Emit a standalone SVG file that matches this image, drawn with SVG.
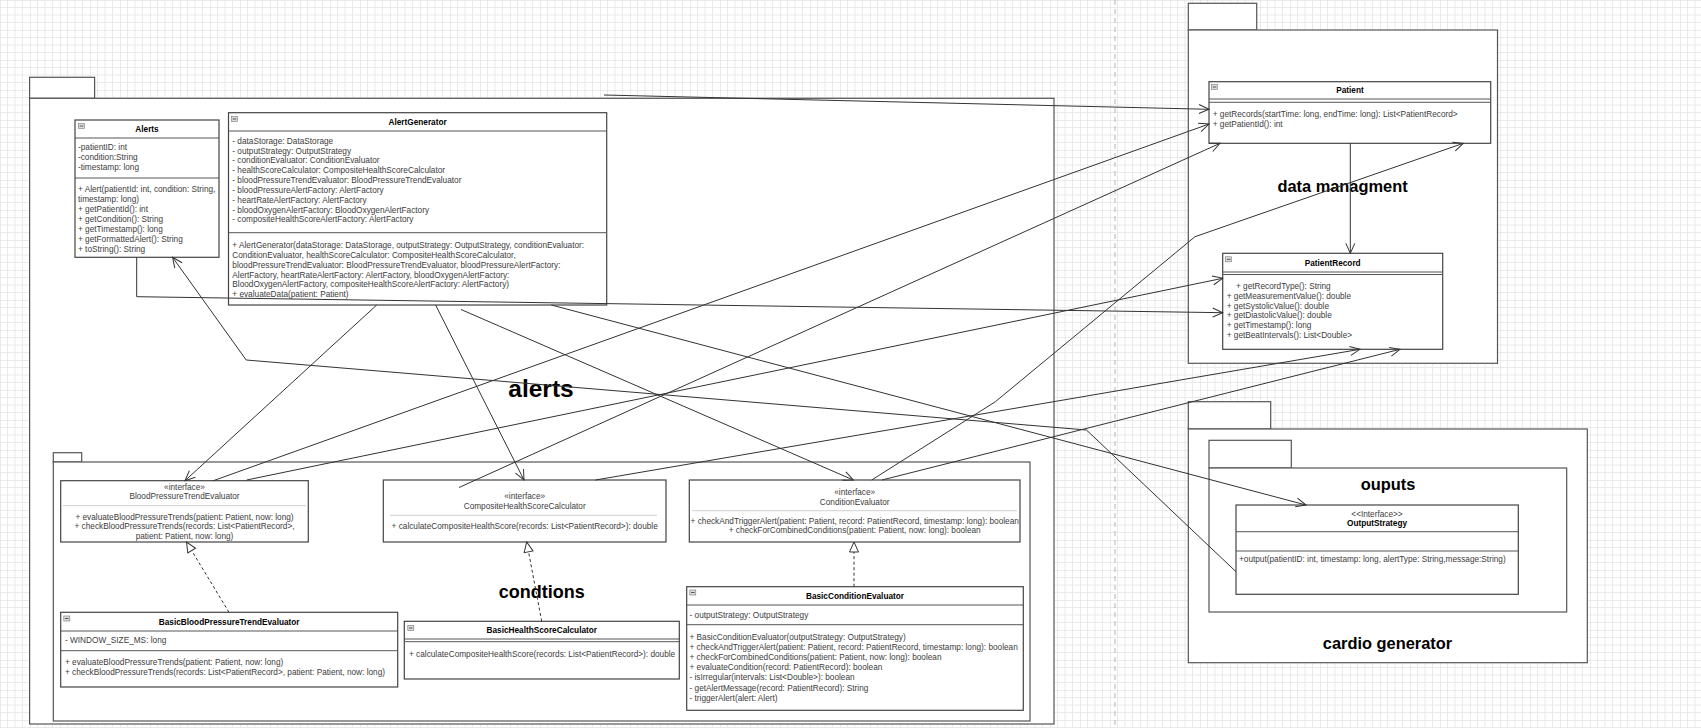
<svg xmlns="http://www.w3.org/2000/svg" xmlns:xlink="http://www.w3.org/1999/xlink" width="1701" height="728" viewBox="0 0 1701 728">
<style>
.pkg{fill:#fff;stroke:#555;stroke-width:1.2}
.cls{fill:#fff;stroke:#444;stroke-width:1.2}
.dv{stroke:#555;stroke-width:1;fill:none}
.sp{stroke:#cfcfcf;stroke-width:1;fill:none}
.t{font-family:"Liberation Sans",Arial,Helvetica,sans-serif;font-size:8.25px;fill:#3c3c3c}
.c{text-anchor:middle}
.ti{font-weight:bold;fill:#000}
.big{font-family:"Liberation Sans",Arial,Helvetica,sans-serif;font-weight:bold;fill:#000;text-anchor:middle}
.cn{fill:none;stroke:#333;stroke-width:1;marker-end:url(#open)}
.rz{fill:none;stroke:#333;stroke-width:1;stroke-dasharray:3 2.5;marker-end:url(#tri)}
</style>
<defs>
<pattern id="grid" width="30" height="30" patternUnits="userSpaceOnUse">
<path d="M7.5 0V30M15 0V30M22.5 0V30M0 7.5H30M0 15H30M0 22.5H30" stroke="#eaeaea" stroke-width="1"/>
<path d="M0 0V30M0 0H30" stroke="#d8d8d8" stroke-width="1"/>
</pattern>
<marker id="open" markerUnits="userSpaceOnUse" markerWidth="12" markerHeight="11" refX="10" refY="4.5" orient="auto" overflow="visible">
<path d="M0 0L10 4.5L0 9" fill="none" stroke="#333" stroke-width="1"/>
</marker>
<marker id="tri" markerUnits="userSpaceOnUse" markerWidth="12" markerHeight="11" refX="10" refY="4.5" orient="auto" overflow="visible">
<path d="M0 0L10 4.5L0 9Z" fill="#fff" stroke="#333" stroke-width="1"/>
</marker>
<g id="ic"><rect x="0" y="0" width="6" height="5" fill="#dcdcdc" stroke="#777" stroke-width="0.6"/><path d="M1.2 2.5H4.8" stroke="#333" stroke-width="0.8"/></g>
</defs>

<rect width="1701" height="728" fill="#fff"/>
<rect width="1701" height="728" fill="url(#grid)"/>
<path d="M1115 0V728" stroke="#b4b4b4" stroke-width="1" stroke-dasharray="5 4"/>

<g id="pkg-alerts">
<rect class="pkg" x="29.6" y="77.3" width="65" height="21"/>
<rect class="pkg" x="29.6" y="98.3" width="1024.4" height="625.7"/>
<text class="big" x="541" y="397" font-size="24.5">alerts</text>
</g>
<g id="pkg-conditions">
<rect class="pkg" x="53.3" y="452.7" width="28.4" height="9.3"/>
<rect class="pkg" x="53.3" y="462" width="976.7" height="259"/>
<text class="big" x="541.7" y="597.5" font-size="18">condtions</text>
</g>
<g id="pkg-data">
<rect class="pkg" x="1188.3" y="3.3" width="68.4" height="26.7"/>
<rect class="pkg" x="1188.3" y="30" width="309.2" height="333.3"/>
<text class="big" x="1342.5" y="192" font-size="16.4">data managment</text>
</g>
<g id="pkg-cardio">
<rect class="pkg" x="1188.3" y="401.7" width="82.4" height="27.3"/>
<rect class="pkg" x="1188.3" y="429" width="399" height="233.7"/>
<text class="big" x="1387.5" y="649" font-size="16.4">cardio generator</text>
</g>
<g id="pkg-outputs">
<rect class="pkg" x="1209" y="440.3" width="82.3" height="27.7"/>
<rect class="pkg" x="1209" y="468" width="357.7" height="144"/>
<text class="big" x="1388" y="490" font-size="16.4">ouputs</text>
</g>

<g id="Alerts">
<rect class="cls" x="75" y="120" width="144" height="137.3"/>
<use xlink:href="#ic" x="78.5" y="123.5"/>
<text class="t ti c" x="147" y="132.3">Alerts</text>
<path class="dv" d="M75 138H219M75 178H219"/>
<text class="t" x="78" y="150.3">-patientID: int</text>
<text class="t" x="78" y="160.3">-condition:String</text>
<text class="t" x="78" y="170.3">-timestamp: long</text>
<text class="t" x="78" y="192.3">+ Alert(patientId: int, condition: String,</text>
<text class="t" x="78" y="202.3">timestamp: long)</text>
<text class="t" x="78" y="212.3">+ getPatientId(): int</text>
<text class="t" x="78" y="222.3">+ getCondition(): String</text>
<text class="t" x="78" y="232.3">+ getTimestamp(): long</text>
<text class="t" x="78" y="242.3">+ getFormattedAlert(): String</text>
<text class="t" x="78" y="252.3">+ toString(): String</text>
</g>

<g id="AlertGenerator">
<rect class="cls" x="228.5" y="112.7" width="378.2" height="192.3"/>
<use xlink:href="#ic" x="231.5" y="116.5"/>
<text class="t ti c" x="417.6" y="125.3">AlertGenerator</text>
<path class="dv" d="M228.5 131H606.7M228.5 232.7H606.7"/>
<text class="t" x="232.3" y="143.7">- dataStorage: DataStorage</text>
<text class="t" x="232.3" y="153.5">- outputStrategy: OutputStrategy</text>
<text class="t" x="232.3" y="163.4">- conditionEvaluator: ConditionEvaluator</text>
<text class="t" x="232.3" y="173.2">- healthScoreCalculator: CompositeHealthScoreCalculator</text>
<text class="t" x="232.3" y="183">- bloodPressureTrendEvaluator: BloodPressureTrendEvaluator</text>
<text class="t" x="232.3" y="192.9">- bloodPressureAlertFactory: AlertFactory</text>
<text class="t" x="232.3" y="202.7">- heartRateAlertFactory: AlertFactory</text>
<text class="t" x="232.3" y="212.5">- bloodOxygenAlertFactory: BloodOxygenAlertFactory</text>
<text class="t" x="232.3" y="222.4">- compositeHealthScoreAlertFactory: AlertFactory</text>
<text class="t" x="232.3" y="248">+ AlertGenerator(dataStorage: DataStorage, outputStrategy: OutputStrategy, conditionEvaluator:</text>
<text class="t" x="232.3" y="257.8">ConditionEvaluator, healthScoreCalculator: CompositeHealthScoreCalculator,</text>
<text class="t" x="232.3" y="267.6">bloodPressureTrendEvaluator: BloodPressureTrendEvaluator, bloodPressureAlertFactory:</text>
<text class="t" x="232.3" y="277.5">AlertFactory, heartRateAlertFactory: AlertFactory, bloodOxygenAlertFactory:</text>
<text class="t" x="232.3" y="287.3">BloodOxygenAlertFactory, compositeHealthScoreAlertFactory: AlertFactory)</text>
<text class="t" x="232.3" y="297.1">+ evaluateData(patient: Patient)</text>
</g>

<g id="BloodPressureTrendEvaluator">
<rect class="cls" x="60.7" y="480.7" width="247.6" height="61.3"/>
<text class="t c" x="184.5" y="489.7">«interface»</text>
<text class="t c" x="184.5" y="499">BloodPressureTrendEvaluator</text>
<path class="sp" d="M63 505.7H306"/>
<text class="t c" x="184.5" y="519.7">+ evaluateBloodPressureTrends(patient: Patient, now: long)</text>
<text class="t c" x="184.5" y="529">+ checkBloodPressureTrends(records: List&lt;PatientRecord&gt;,</text>
<text class="t c" x="184.5" y="538.7">patient: Patient, now: long)</text>
</g>

<g id="CompositeHealthScoreCalculator">
<rect class="cls" x="383.3" y="480" width="282.7" height="62"/>
<text class="t c" x="524.7" y="499">«interface»</text>
<text class="t c" x="524.7" y="509">CompositeHealthScoreCalculator</text>
<path class="sp" d="M390 515.3H657"/>
<text class="t c" x="524.7" y="529">+ calculateCompositeHealthScore(records: List&lt;PatientRecord&gt;): double</text>
</g>

<g id="ConditionEvaluator">
<rect class="cls" x="689.3" y="480" width="330.7" height="62"/>
<text class="t c" x="854.7" y="495">«interface»</text>
<text class="t c" x="854.7" y="504.7">ConditionEvaluator</text>
<path class="sp" d="M692 510.7H1017"/>
<text class="t c" x="854.7" y="524.3">+ checkAndTriggerAlert(patient: Patient, record: PatientRecord, timestamp: long): boolean</text>
<text class="t c" x="854.7" y="533.3">+ checkForCombinedConditions(patient: Patient, now: long): boolean</text>
</g>

<g id="BasicBloodPressureTrendEvaluator">
<rect class="cls" x="60.7" y="612.3" width="337" height="74.7"/>
<use xlink:href="#ic" x="63.8" y="616"/>
<text class="t ti c" x="229.2" y="624.7">BasicBloodPressureTrendEvaluator</text>
<path class="dv" d="M60.7 631H397.7M60.7 650.7H397.7"/>
<text class="t" x="65" y="643">- WINDOW_SIZE_MS: long</text>
<text class="t" x="65" y="665.3">+ evaluateBloodPressureTrends(patient: Patient, now: long)</text>
<text class="t" x="65" y="675">+ checkBloodPressureTrends(records: List&lt;PatientRecord&gt;, patient: Patient, now: long)</text>
</g>

<g id="BasicHealthScoreCalculator">
<rect class="cls" x="404.3" y="621.3" width="275" height="57.7"/>
<use xlink:href="#ic" x="407.8" y="625.5"/>
<text class="t ti c" x="541.8" y="633">BasicHealthScoreCalculator</text>
<path class="dv" d="M404.3 639H679.3M404.3 641.7H679.3"/>
<text class="t" x="409" y="657">+ calculateCompositeHealthScore(records: List&lt;PatientRecord&gt;): double</text>
</g>

<g id="BasicConditionEvaluator">
<rect class="cls" x="686.7" y="586.7" width="336.6" height="123.6"/>
<use xlink:href="#ic" x="689.8" y="590"/>
<text class="t ti c" x="855" y="599">BasicConditionEvaluator</text>
<path class="dv" d="M686.7 605H1023.3M686.7 624.7H1023.3"/>
<text class="t" x="689.5" y="617.7">- outputStrategy: OutputStrategy</text>
<text class="t" x="689.5" y="639.5">+ BasicConditionEvaluator(outputStrategy: OutputStrategy)</text>
<text class="t" x="689.5" y="649.8">+ checkAndTriggerAlert(patient: Patient, record: PatientRecord, timestamp: long): boolean</text>
<text class="t" x="689.5" y="660">+ checkForCombinedConditions(patient: Patient, now: long): boolean</text>
<text class="t" x="689.5" y="670.2">+ evaluateCondition(record: PatientRecord): boolean</text>
<text class="t" x="689.5" y="680.4">- isIrregular(intervals: List&lt;Double&gt;): boolean</text>
<text class="t" x="689.5" y="690.6">- getAlertMessage(record: PatientRecord): String</text>
<text class="t" x="689.5" y="700.8">- triggerAlert(alert: Alert)</text>
</g>

<g id="Patient">
<rect class="cls" x="1209" y="81.7" width="281.7" height="61.6"/>
<use xlink:href="#ic" x="1211.5" y="84.5"/>
<text class="t ti c" x="1350" y="93">Patient</text>
<path class="dv" d="M1209 99H1490.7M1209 102.3H1490.7"/>
<text class="t" x="1212.7" y="117">+ getRecords(startTime: long, endTime: long): List&lt;PatientRecord&gt;</text>
<text class="t" x="1212.7" y="127">+ getPatientId(): int</text>
</g>

<g id="PatientRecord">
<rect class="cls" x="1222.7" y="253.3" width="220" height="96"/>
<use xlink:href="#ic" x="1225.7" y="256.8"/>
<text class="t ti c" x="1332.7" y="266">PatientRecord</text>
<path class="dv" d="M1222.7 272H1442.7M1222.7 274.5H1442.7"/>
<text class="t" x="1236" y="289">+ getRecordType(): String</text>
<text class="t" x="1226.7" y="299">+ getMeasurementValue(): double</text>
<text class="t" x="1226.7" y="308.7">+ getSystolicValue(): double</text>
<text class="t" x="1226.7" y="318.3">+ getDiastolicValue(): double</text>
<text class="t" x="1226.7" y="328">+ getTimestamp(): long</text>
<text class="t" x="1226.7" y="337.8">+ getBeatIntervals(): List&lt;Double&gt;</text>
</g>

<g id="OutputStrategy">
<rect class="cls" x="1236" y="505" width="282.3" height="89.3"/>
<text class="t c" x="1377" y="516.5" font-size="7.5" fill="#000">&lt;&lt;Interface&gt;&gt;</text>
<text class="t ti c" x="1377" y="525.8">OutputStrategy</text>
<path class="dv" d="M1236 531.7H1518.3M1236 551H1518.3"/>
<text class="t" x="1239" y="562">+output(patientID: int, timestamp: long, alertType: String,message:String)</text>
</g>

<g id="connectors">
<path class="cn" d="M604 95L1209 109.3"/>
<path class="cn" d="M213.3 480.7L1209 124"/>
<path class="cn" d="M459 487.5L1220 143.3"/>
<path class="cn" d="M871.7 480L995.4 401.7L1195 236.7L1463.3 143.3"/>
<path class="cn" d="M246.7 480L1222.7 278.3"/>
<path class="cn" d="M136.7 257.3V296.7L1222.7 312.7"/>
<path class="cn" d="M595.5 480L1360 349.3"/>
<path class="cn" d="M882 480L1400 349.3"/>
<path class="cn" d="M1236 571.7L1086.5 430L246.2 360L172.6 257.3"/>
<path class="cn" d="M376.7 305L185 480.7"/>
<path class="cn" d="M435.6 305L524 480"/>
<path class="cn" d="M461 309.5L853.3 480"/>
<path class="cn" d="M551.4 305L1306 505"/>
<path class="cn" d="M1350.3 143.3V253.3"/>
<path class="rz" d="M229 612.3L186.5 542"/>
<path class="rz" d="M541.7 621.3L526.7 542"/>
<path class="rz" d="M854 586.7V542"/>
</g>
</svg>
